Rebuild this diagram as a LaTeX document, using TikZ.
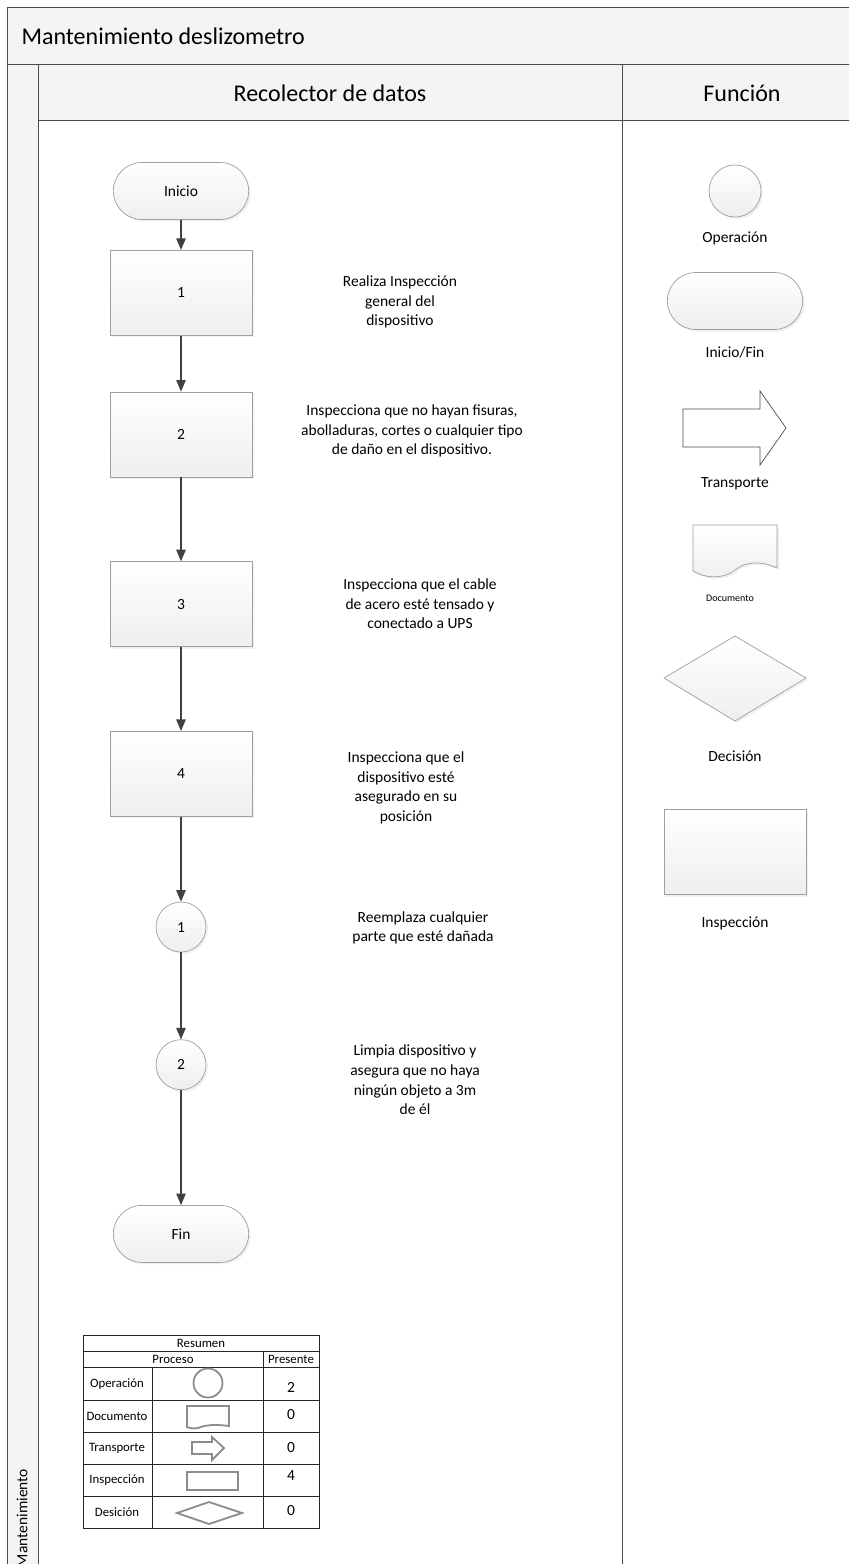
\documentclass[tikz,border=0pt]{standalone}
\usepackage{fontspec}
\setmainfont{Carlito}
\usepackage{tikz}
\usetikzlibrary{positioning,shapes.geometric,shapes.misc,arrows,shadows}

\newcommand{\bodyfont}{\fontsize{15.5}{19.6}\selectfont}
\newcommand{\headfont}{\fontsize{24}{28}\selectfont}
\newcommand{\tabfont}{\fontsize{12.8}{14}\selectfont}

\tikzset{
  lane/.style={draw=black!70, line width=0.9pt},
  band/.style={lane, fill=gray!9},
  shp/.style={draw=gray!75, line width=0.7pt, top color=white, bottom color=gray!13,
    drop shadow={opacity=0.12, shadow xshift=2pt, shadow yshift=-2pt}, font=\bodyfont},
  insp/.style={shp, rectangle, minimum width=142pt, minimum height=85pt},
  term/.style={shp, rounded rectangle, minimum width=142pt, minimum height=57pt},
  oper/.style={shp, circle, minimum size=50pt, inner sep=0pt},
  note/.style={align=center, font=\bodyfont},
  flow/.style={draw=black!75, line width=1.7pt, -triangle 45},
  sym/.style={draw=gray!90, line width=1.8pt},
  cell/.style={font=\tabfont, inner sep=0pt}
}

\begin{document}
\begin{tikzpicture}[x=1pt, y=-1pt]
  \useasboundingbox (0,0) rectangle (849,1564);
  \clip (0,0) rectangle (849,1564);

  % pool and lanes
  \draw[band] (7,7) rectangle (870,64);
  \draw[band] (7,64) rectangle (38,1600);
  \draw[band] (38,64) rectangle (870,120);
  \draw[lane] (38,120) rectangle (870,1600);
  \draw[lane] (622,64) -- (622,1600);

  \node[anchor=west, font=\headfont] (pool) at (18,36) {Mantenimiento deslizometro};
  \node[font=\headfont] (lane1) at (330,93) {Recolector de datos};
  \node[font=\headfont] (lane2) at (742,93) {Función};
  \node[rotate=90, font=\bodyfont] (pooltag) at (22,1518) {Mantenimiento};

  % flujo
  \node[term] (inicio) at (181,191) {Inicio};
  \node[insp, below=30pt of inicio] (i1) {1};
  \node[insp, below=56pt of i1] (i2) {2};
  \node[insp, below=84pt of i2] (i3) {3};
  \node[insp, below=84pt of i3] (i4) {4};
  \node[oper, below=85pt of i4] (o1) {1};
  \node[oper, below=87pt of o1] (o2) {2};
  \node[term, below=115pt of o2] (fin) {Fin};

  \foreach \a/\b in {inicio/i1, i1/i2, i2/i3, i3/i4, i4/o1, o1/o2, o2/fin}
    \draw[flow] (\a) -- (\b);

  \node[note] (t1) at (400,302) {Realiza Inspección\\general del\\dispositivo};
  \node[note] (t2) at (412,431) {Inspecciona que no hayan fisuras,\\abolladuras, cortes o cualquier tipo\\de daño en el dispositivo.};
  \node[note] (t3) at (420,604) {Inspecciona que el cable\\de acero esté tensado y\\conectado a UPS};
  \node[note] (t4) at (406,788) {Inspecciona que el\\dispositivo esté\\asegurado en su\\posición};
  \node[note] (t5) at (423,928) {Reemplaza cualquier\\parte que esté dañada};
  \node[note] (t6) at (415,1080) {Limpia dispositivo y\\asegura que no haya\\ningún objeto a 3m\\de él};

  % simbologia
  \node[oper, minimum size=52pt] (lop) at (735,191) {};
  \node[note] (lopt) at (735,238) {Operación};
  \node[term] (lterm) at (735,301) {};
  \node[note] (ltermt) at (735,352) {Inicio/Fin};
  \draw[draw=black!70, line width=0.7pt, fill=white]
    (683,409) -- (760,409) -- (760,391) -- (786,428) -- (760,465) -- (760,447) -- (683,447) -- cycle;
  \node[note] (ltrt) at (735,484) {Transporte};
  \draw[shp] (693,525) -- (777,525) -- (777,568)
    .. controls (760,560) and (745,562) .. (735,570)
    .. controls (722,580) and (705,578) .. (693,571) -- cycle;
  \node[font=\fontsize{10}{12}\selectfont] (ldoct) at (730,598) {Documento};
  \draw[shp] (664,678) -- (735,636) -- (806,678) -- (735,721) -- cycle;
  \node[note] (ldect) at (735,756) {Decisión};
  \node[insp] (linsp) at (735,852) {};
  \node[note] (linspt) at (735,923) {Inspección};

  % resumen
  \draw[black!85, line width=0.8pt] (83,1335) rectangle (319,1528);
  \foreach \y in {1351,1367,1400,1432,1464,1496}
    \draw[black!85, line width=0.8pt] (83,\y) -- (319,\y);
  \draw[black!85, line width=0.8pt] (152,1367) -- (152,1528);
  \draw[black!85, line width=0.8pt] (263,1351) -- (263,1528);

  \node[cell] (res) at (201,1343) {Resumen};
  \node[cell] (proc) at (173,1359) {Proceso};
  \node[cell] (pres) at (291,1359) {Presente};
  \node[cell] (r1) at (117,1384) {Operación};
  \node[cell] (r2) at (117,1416) {Documento};
  \node[cell] (r3) at (117,1448) {Transporte};
  \node[cell] (r4) at (117,1480) {Inspección};
  \node[cell] (r5) at (117,1512) {Desición};
  \node[cell, font=\bodyfont] (n1) at (291,1387) {2};
  \node[cell, font=\bodyfont] (n2) at (291,1415) {0};
  \node[cell, font=\bodyfont] (n3) at (291,1448) {0};
  \node[cell, font=\bodyfont] (n4) at (291,1476) {4};
  \node[cell, font=\bodyfont] (n5) at (291,1511) {0};

  \draw[sym] (208,1383) circle (14.5);
  \draw[sym] (187,1406) -- (229,1406) -- (229,1426)
    .. controls (215,1424) and (205,1425) .. (198,1428)
    .. controls (194,1429) and (190,1428) .. (187,1427) -- cycle;
  \draw[sym] (192,1442) -- (212,1442) -- (212,1437) -- (224,1448) -- (212,1460) -- (212,1454) -- (192,1454) -- cycle;
  \draw[sym] (187,1472) rectangle (238,1490);
  \draw[sym] (177,1513) -- (209,1502) -- (242,1513) -- (209,1524) -- cycle;
\end{tikzpicture}
\end{document}
